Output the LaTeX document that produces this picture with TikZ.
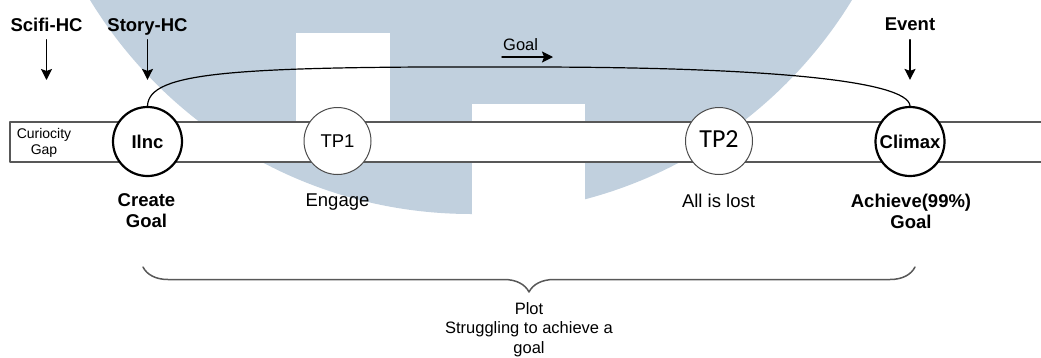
\documentclass[tikz,border=0pt]{standalone}
\usepackage{fontspec}
\setmainfont{Liberation Sans}
\newfontfamily\tpfont{Carlito}
\usetikzlibrary{arrows.meta}
\usetikzlibrary{decorations.pathreplacing}
\definecolor{wmblue}{RGB}{193,208,222}
\definecolor{bandgray}{RGB}{88,88,88}

\begin{document}
\begin{tikzpicture}[line cap=round,line join=round,>={Stealth[length=11pt,width=11pt,inset=2pt]},x=1pt,y=-1pt,
  lbl/.style={font=\fontsize{18.5}{21.5}\selectfont\bfseries,inner sep=0pt},
  toplbl/.style={lbl,text depth=4pt},
  txt/.style={font=\fontsize{18.5}{21.5}\selectfont,inner sep=0pt},
  small/.style={font=\fontsize{16.5}{19.3}\selectfont,inner sep=0pt},
  bigstep/.style={circle,draw=black,line width=2.2pt,fill=white,minimum size=69pt,inner sep=0pt,font=\fontsize{18.5}{21.5}\selectfont\bfseries},
  tpstep/.style={circle,draw=black!70,line width=1pt,fill=white,minimum size=67pt,inner sep=0pt},
  pointer/.style={->,line width=1.4pt}]
\useasboundingbox (0,0) rectangle (1041,357);
\begin{scope}
\clip (0,0) rectangle (1041,357);
\fill[wmblue] (471,-232) circle[radius=446pt];
\fill[white] (296,33) rectangle (390,122);
\fill[white] (472,104) rectangle (585,214);
\end{scope}
\draw[bandgray,line width=1.5pt,fill=white] (1041,122) -- (10,122) -- (10,162) -- (1041,162);
\node[font=\fontsize{14}{16.3}\selectfont,align=center,anchor=north,inner sep=0pt] (gap) at (44,127.7) {Curiocity\\Gap};
\node[bigstep] (ilnc) at (147.5,141.5) {Ilnc};
\node[tpstep,font=\fontsize{18.5}{21.5}\selectfont] (tp1) at (337.5,141) {TP1};
\node[tpstep,font=\tpfont\fontsize{26}{30}\selectfont] (tp2) at (719,141) {\raisebox{4pt}{TP2}};
\node[bigstep] (climax) at (910,141.5) {Climax};
\node[toplbl,anchor=base] (scifi) at (46.5,31.5) {Scifi-HC};
\node[toplbl,anchor=base] (story) at (147.5,31.5) {Story-HC};
\node[toplbl,anchor=base] (event) at (910,30.5) {Event};
\coordinate (scifi-tip) at (46.5,80);
\draw[pointer,shorten <=4pt] (scifi) -- (scifi-tip);
\draw[pointer,shorten <=4pt,shorten >=26pt] (story) -- (ilnc);
\draw[pointer,shorten <=5pt,shorten >=26pt] (event) -- (climax);
\coordinate (goal-top) at (528,67);
\draw[line width=1.2pt] (ilnc.north) .. controls (149,72) and (230,66) .. (goal-top) .. controls (760,67) and (908,80) .. (climax.north);
\node[small,anchor=base west] (goal) at (503,50.7) {Goal};
\coordinate (goal-tail) at (502,57);
\coordinate (goal-head) at (553,57);
\draw[pointer] (goal-tail) -- (goal-head);
\node[lbl,align=center,anchor=north] (create) at (146.5,193.3) {Create\\Goal};
\node[txt,anchor=base] (engage) at (337.5,206.5) {Engage};
\node[txt,anchor=base] (lost) at (718.5,207) {All is lost};
\node[lbl,align=center,anchor=north] (achieve) at (911,193.5) {Achieve(99\%)\\Goal};
\coordinate (plot-l) at (143,267);
\coordinate (plot-r) at (915,267);
\draw[bandgray,line width=1.5pt,decorate,decoration={brace,mirror,amplitude=25pt}] (plot-l) -- (plot-r);
\node[small,align=center,anchor=north] (plot) at (529,302.5) {Plot\\Struggling to achieve a\\goal};
\end{tikzpicture}
\end{document}
